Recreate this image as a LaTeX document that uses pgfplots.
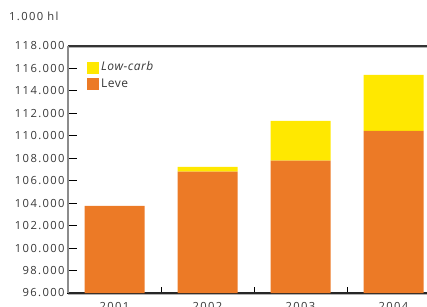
\documentclass[border=0pt]{standalone}
\usepackage{fontspec}
\setmainfont{Open Sans}
\newfontfamily\spaced{Open Sans}[LetterSpace=12]
\newfontfamily\legfont{Open Sans}[LetterSpace=4]
\usepackage{pgfplots}
\pgfplotsset{compat=1.18}
\definecolor{leve}{RGB}{236,122,38}
\definecolor{lowcarb}{RGB}{255,232,0}
\definecolor{txt}{RGB}{55,55,55}
\begin{document}
\begin{tikzpicture}
\begin{axis}[
  at={(68pt,13pt)}, anchor=south west,
  scale only axis, width=362pt, height=247pt,
  ybar stacked, bar width=60pt,
  xmin=-0.5, xmax=3.392,
  ymin=96000, ymax=118000,
  ytick distance=2000,
  scaled y ticks=false,
  axis line style={draw=none},
  clip=false,
  yticklabel style={/pgf/number format/.cd, fixed, 1000 sep={.}, assume math mode=true},
  tick label style={font=\spaced\fontsize{11.2}{13}\selectfont, color=txt},
  xticklabel style={yshift=-6pt},
  xtick={0,1,2,3}, xticklabels={2001,2002,2003,2004},
  major tick length=0pt,
  xtick pos=left, ytick pos=left,
  reverse legend,
  legend cell align=left,
  legend style={draw=none, fill=none, inner sep=0pt, row sep=2pt,
    at={(rel axis cs:0.0525,0.943)}, anchor=north west,
    font=\legfont\fontsize{12}{13}\selectfont, text=txt,
    nodes={inner sep=2pt, text height=8.5pt, text depth=2pt}},
  legend image code/.code={\fill[#1] (0pt,-6pt) rectangle (12pt,6pt);},
]
\addplot[fill=leve, draw=none] coordinates {(0,103750) (1,106800) (2,107800) (3,110450)};
\addlegendentry{Leve}
\addplot[fill=lowcarb, draw=none] coordinates {(0,0) (1,430) (2,3530) (3,4980)};
\addlegendentry{\textit{Low-carb}}
\draw[black!45, line width=2pt] (rel axis cs:0,0) -- (rel axis cs:0,1);
\draw[black!30, line width=1pt] ([yshift=-1pt]rel axis cs:0,1) -- ([yshift=-1pt]rel axis cs:1,1);
\draw[black!80, line width=1.2pt] (rel axis cs:0,1) -- (rel axis cs:1,1);
\draw[black!30, line width=1pt] ([yshift=-1pt]rel axis cs:0,0) -- ([yshift=-1pt]rel axis cs:1,0);
\draw[black!85, line width=1.2pt] (rel axis cs:0,0) -- (rel axis cs:1,0);
\draw[black, line width=1.2pt] ([yshift=4pt]rel axis cs:0,0) -- (rel axis cs:0,0) -- ([xshift=4pt]rel axis cs:0,0);
\pgfplotsinvokeforeach{98000,100000,102000,104000,106000,108000,110000,112000,114000,116000}{
  \draw[black, line width=1pt] (axis cs:-0.5,#1) -- ++(9pt,0pt);
}
\pgfplotsinvokeforeach{0.5,1.5,2.5}{
  \draw[black, line width=1pt] (axis cs:#1,96000) -- ++(0pt,6pt);
}
\end{axis}
\node[anchor=base east, font=\spaced\fontsize{11.2}{13}\selectfont, text=txt] at (62pt,285.3pt) {1.000 hl};
\pgfresetboundingbox
\path[use as bounding box] (0,0) rectangle (427pt,306pt);
\end{tikzpicture}
\end{document}
